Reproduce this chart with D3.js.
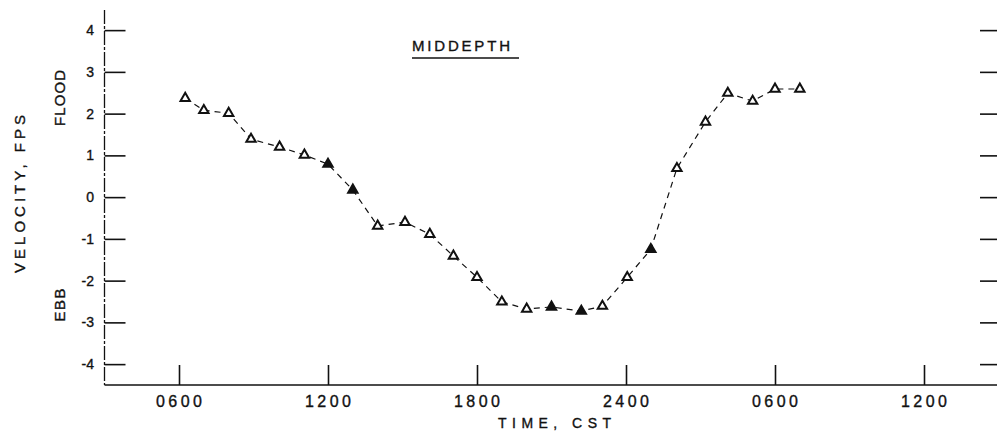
<!DOCTYPE html>
<html>
<head>
<meta charset="utf-8">
<script src="https://cdn.jsdelivr.net/npm/d3@7"></script>
<style>
  html, body { margin: 0; padding: 0; background: #fff; }
  svg { display: block; }
  text { font-family: "Liberation Sans", Arial, sans-serif; fill: #111; stroke: #111; stroke-width: 0.35px; }
</style>
</head>
<body>
<svg id="chart" width="997" height="435"></svg>
<script>
// ---- data (hours from 0000 on day 1; velocity in fps) ----
const hours = [6.25, 7, 8, 8.9, 10.05, 11.05, 12, 13, 14, 15.1, 16.1, 17.05, 18, 19, 20, 21, 22.2, 23.05, 24.05, 25, 26.05, 27.2, 28.1, 29.1, 30, 31];
const velocity = [2.37, 2.08, 2.01, 1.39, 1.2, 1.01, 0.79, 0.17, -0.69, -0.6, -0.89, -1.41, -1.92, -2.51, -2.68, -2.63, -2.73, -2.61, -1.92, -1.25, 0.69, 1.8, 2.49, 2.3, 2.59, 2.59];
const solidPoints = [6, 7, 15, 16, 19];   // markers that print as solid blobs
const xTickValues = [6, 12, 18, 24, 30, 36];
const xTickLabels = ["0600", "1200", "1800", "2400", "0600", "1200"];
const yTickValues = [4, 3, 2, 1, 0, -1, -2, -3, -4];
const yTickLabels = ["4", "3", "2", "1", "0", "-1", "-2", "-3", "-4"];
const title = "MIDDEPTH";
const xTitle = "TIME, CST";
const yTitle = "VELOCITY, FPS";
const floodLabel = "FLOOD";
const ebbLabel = "EBB";

const svg = d3.select("#chart");
const x = d3.scaleLinear().domain([3, 39]).range([104.5, 998.5]);
const y = d3.scaleLinear().domain([-4.5, 4.5]).range([385, 9.25]);

const ink = "#111";

// left axis line
svg.append("line")
  .attr("x1", x(3)).attr("x2", x(3))
  .attr("y1", y(4.48)).attr("y2", y(-4.5))
  .attr("stroke", ink).attr("stroke-width", 1.3)
  .attr("stroke-dasharray", "14,2,3,2");
// bottom axis line
svg.append("line")
  .attr("x1", x(3)).attr("x2", 997)
  .attr("y1", y(-4.5)).attr("y2", y(-4.5))
  .attr("stroke", ink).attr("stroke-width", 1.6);

// y ticks (left, inward) and right-side ticks
const yAxisL = d3.axisRight(y).tickValues(yTickValues).tickSize(21).tickFormat(() => "");
const gL = svg.append("g").attr("transform", `translate(${x(3)},0)`).call(yAxisL);
gL.select(".domain").remove();
gL.selectAll(".tick line").attr("stroke", ink).attr("stroke-width", 1.6);

const yAxisR = d3.axisLeft(y).tickValues(yTickValues).tickSize(17).tickFormat(() => "");
const gR = svg.append("g").attr("transform", `translate(997,0)`).call(yAxisR);
gR.select(".domain").remove();
gR.selectAll(".tick line").attr("stroke", ink).attr("stroke-width", 1.6);

// y tick labels
svg.append("g").selectAll("text").data(yTickValues).join("text")
  .attr("x", 94).attr("y", d => y(d) + 5)
  .attr("text-anchor", "end")
  .attr("font-size", 14)
  .text((d, i) => yTickLabels[i]);

// x ticks (upward)
const xAxis = d3.axisTop(x).tickValues(xTickValues).tickSize(20).tickFormat(() => "");
const gX = svg.append("g").attr("transform", `translate(0,${y(-4.5)})`).call(xAxis);
gX.select(".domain").remove();
gX.selectAll(".tick line").attr("stroke", ink).attr("stroke-width", 1.6);

// x tick labels
svg.append("g").selectAll("text").data(xTickValues).join("text")
  .attr("x", d => x(d)).attr("y", 407)
  .attr("text-anchor", "middle")
  .attr("font-size", 16)
  .attr("textLength", 46).attr("lengthAdjust", "spacing")
  .text((d, i) => xTickLabels[i]);

// axis titles
svg.append("text")
  .attr("x", 498).attr("y", 428)
  .attr("font-size", 14)
  .attr("textLength", 113).attr("lengthAdjust", "spacing")
  .text(xTitle);

svg.append("text")
  .attr("transform", "translate(25,194) rotate(-90)")
  .attr("text-anchor", "middle")
  .attr("font-size", 15)
  .attr("textLength", 158).attr("lengthAdjust", "spacing")
  .text(yTitle);

svg.append("text")
  .attr("transform", "translate(65,98) rotate(-90)")
  .attr("text-anchor", "middle")
  .attr("font-size", 15)
  .attr("textLength", 56).attr("lengthAdjust", "spacing")
  .text(floodLabel);

svg.append("text")
  .attr("transform", "translate(65,305) rotate(-90)")
  .attr("text-anchor", "middle")
  .attr("font-size", 15)
  .attr("textLength", 33).attr("lengthAdjust", "spacing")
  .text(ebbLabel);

// chart title with underline
svg.append("text")
  .attr("x", 412).attr("y", 51)
  .attr("font-size", 15)
  .attr("textLength", 98).attr("lengthAdjust", "spacing")
  .text(title);
svg.append("line")
  .attr("x1", 412).attr("x2", 519).attr("y1", 58).attr("y2", 58)
  .attr("stroke", ink).attr("stroke-width", 1.6);

// dashed connecting line
const pts = hours.map((h, i) => [h, velocity[i]]);
const line = d3.line().x(d => x(d[0])).y(d => y(d[1]));
svg.append("path")
  .datum(pts)
  .attr("d", line)
  .attr("fill", "none")
  .attr("stroke", ink)
  .attr("stroke-width", 1.2)
  .attr("stroke-dasharray", "6,5");

// triangle markers
const tri = d3.symbol().type(d3.symbolTriangle).size(38);
svg.append("g").selectAll("path").data(pts).join("path")
  .attr("transform", d => `translate(${x(d[0])},${y(d[1])})`)
  .attr("d", tri)
  .attr("fill", (d, i) => solidPoints.includes(i) ? ink : "#fff")
  .attr("stroke", ink)
  .attr("stroke-width", 2);
</script>
</body>
</html>
